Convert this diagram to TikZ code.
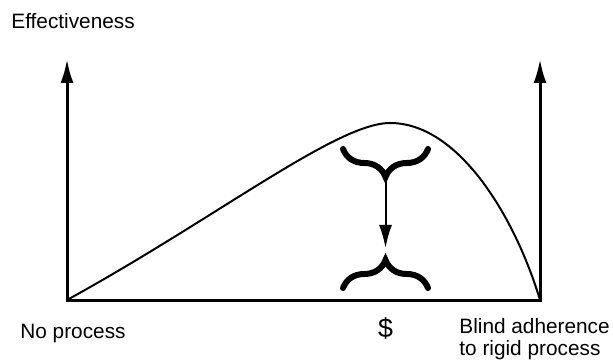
\documentclass[tikz,border=0pt]{standalone}
\usepackage{fontspec}
\setmainfont{Liberation Sans}
\usetikzlibrary{arrows.meta,positioning,decorations.pathreplacing}
\tikzset{
  axis/.style={line width=1.5pt,{Latex[length=12pt,width=6.5pt]}-{Latex[length=12pt,width=6.5pt]}},
  curv/.style={line width=1pt},
  brc/.style={line width=3pt,line cap=round,decorate,decoration={brace,amplitude=14pt}},
  arr/.style={line width=1pt,-{Latex[length=11.5pt,width=6.5pt]}},
  lab/.style={font=\fontsize{10.4}{11}\selectfont,inner sep=0pt},
}

\begin{document}
\begin{tikzpicture}[x=0.5pt,y=0.5pt]
  \useasboundingbox (0,0) rectangle (613,363);
  \coordinate (o) at (67,63); \coordinate (r) at (540,63);
  \coordinate (lt) at (67,304); \coordinate (rt) at (540,304);
  \coordinate (peak) at (390,240);
  \draw[axis] (lt) -- (o) -- (r) -- (rt);
  \draw[curv] (o) .. controls (217,145.5) and (337,240) .. (peak)
    .. controls (460,240) and (516,143) .. (r);
  % braces and the arrow between them
  \draw[brc] (428,214) -- (343,214);
  \draw[brc] (343,75) -- (428,75);
  \coordinate (tb) at (385.5,187); \coordinate (bb) at (385.5,115);
  \draw[arr] (tb) -- (bb);
  \node[lab,anchor=base west] (eff) at (11,334) {Effectiveness};
  \node[lab,anchor=base west] (nop) at (20,25) {No process};
  \node[inner sep=0pt,font=\fontsize{13.4}{14}\selectfont] (cost) at (385.5,34.5) {\$};
  \node[lab,anchor=base west,align=left] (blind) at (459,8) {Blind adherence\\to rigid process};
\end{tikzpicture}
\end{document}
